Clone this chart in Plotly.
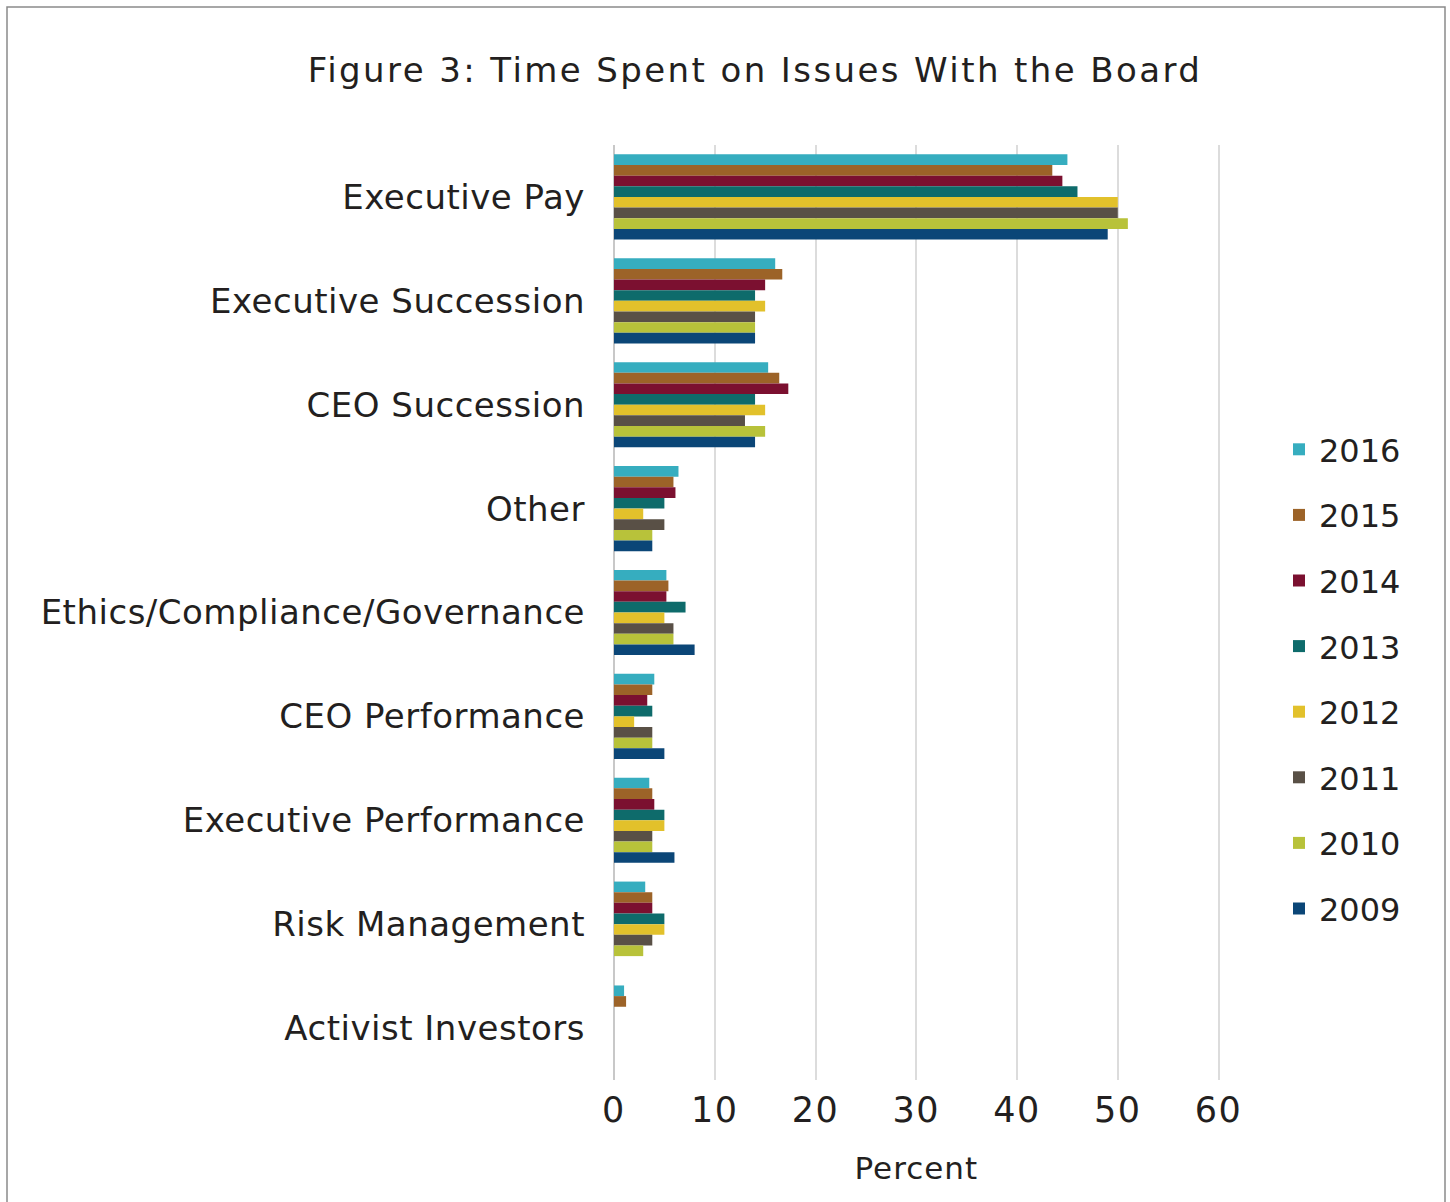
import plotly.graph_objects as go

categories = ["Executive Pay", "Executive Succession", "CEO Succession", "Other",
              "Ethics/Compliance/Governance", "CEO Performance", "Executive Performance",
              "Risk Management", "Activist Investors"]

years = ["2016", "2015", "2014", "2013", "2012", "2011", "2010", "2009"]

v2016 = [45.0, 16.0, 15.3, 6.4, 5.2, 4.0, 3.5, 3.1, 1.0]
v2015 = [43.5, 16.7, 16.4, 5.9, 5.4, 3.8, 3.8, 3.8, 1.2]
v2014 = [44.5, 15.0, 17.3, 6.1, 5.2, 3.3, 4.0, 3.8, None]
v2013 = [46.0, 14.0, 14.0, 5.0, 7.1, 3.8, 5.0, 5.0, None]
v2012 = [50.0, 15.0, 15.0, 2.9, 5.0, 2.0, 5.0, 5.0, None]
v2011 = [50.0, 14.0, 13.0, 5.0, 5.9, 3.8, 3.8, 3.8, None]
v2010 = [51.0, 14.0, 15.0, 3.8, 5.9, 3.8, 3.8, 2.9, None]
v2009 = [49.0, 14.0, 14.0, 3.8, 8.0, 5.0, 6.0, None, None]

series = [v2016, v2015, v2014, v2013, v2012, v2011, v2010, v2009]
colors = ["#36adbf", "#9c6328", "#7b1030", "#0e6b6b", "#e2c12b", "#595046", "#b8c23a", "#0b4677"]

tick_vals = [0, 10, 20, 30, 40, 50, 60]

FONT = "DejaVu Sans"
TXT = "#231f20"

fig = go.Figure()
for yr, vals, col in zip(years, series, colors):
    fig.add_trace(go.Bar(
        y=categories, x=vals, name=yr, orientation="h",
        marker=dict(color=col, line=dict(width=0)),
        legendgroup=yr,
    ))

# plot area geometry (pixels)
L, T = 614, 145
R_px, B_px = 1279, 1080
W, H = 1450, 1202
pw = R_px - L
ph = B_px - T


def px_x(v):
    return (v - L) / pw


def px_y(v):
    return (B_px - v) / ph


fig.update_layout(
    width=W, height=H,
    margin=dict(l=L, r=W - R_px, t=T, b=H - B_px, pad=0),
    paper_bgcolor="white", plot_bgcolor="white",
    barmode="group", bargap=0.18, bargroupgap=0,
    font=dict(family=FONT, color=TXT, size=30),
    title=dict(text="Figure 3: Time Spent on Issues With the Board",
               font=dict(family=FONT, size=34, color=TXT),
               xref="container", x=755 / W, xanchor="center",
               yref="container", y=1 - 70 / H, yanchor="middle"),
    xaxis=dict(range=[0, 66], tickvals=tick_vals, showgrid=True,
               gridcolor="#dcdcdc", gridwidth=2, zeroline=True,
               zerolinecolor="#c8c8c8", zerolinewidth=2,
               tickfont=dict(family=FONT, size=35, color=TXT),
               ticks="", ticklabelstandoff=6, showline=False),
    yaxis=dict(autorange="reversed", showgrid=False, ticks="",
               tickfont=dict(family=FONT, size=34, color=TXT),
               ticklabelstandoff=28, showline=False),
    legend=dict(x=1.0, xanchor="left", y=px_y(422), yanchor="top",
                font=dict(family=FONT, size=32, color=TXT),
                tracegroupgap=21, itemsizing="constant", bgcolor="rgba(0,0,0,0)"),
    annotations=[dict(text="Percent", x=30, xref="x", y=px_y(1168), yref="paper",
                      showarrow=False, font=dict(family=FONT, size=31, color=TXT),
                      xanchor="center", yanchor="middle")],
)

# border frame around the figure
fig.add_shape(type="rect", xref="paper", yref="paper",
              x0=px_x(7), x1=px_x(1445), y0=px_y(1210), y1=px_y(7),
              line=dict(color="#8a8a8a", width=1.5), fillcolor="rgba(0,0,0,0)", layer="below")

post = """
document.body.style.margin='0';
function sp(sel, v){document.querySelectorAll(sel).forEach(function(e){e.style.letterSpacing=v;});}
sp('.gtitle', '2.4px');
sp('.ytick text', '0.5px');
sp('.xtick text', '1.5px');
sp('.annotation-text', '1px');
"""

fig.write_html("out.html", post_script=post, config={"displayModeBar": False})
